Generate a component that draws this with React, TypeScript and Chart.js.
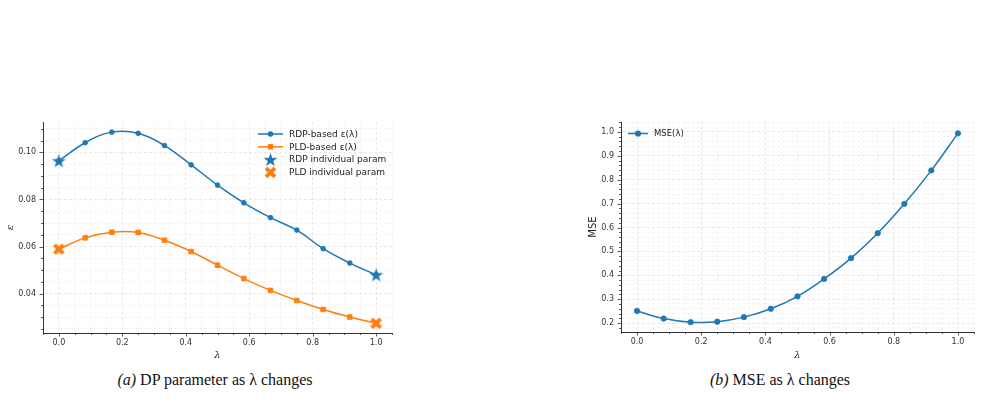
import React, { useEffect, useRef } from 'react';
import { Chart, registerables } from 'chart.js';
Chart.register(...registerables);

// ---------------- data ----------------
const lambdas = [0, 0.083, 0.167, 0.25, 0.333, 0.417, 0.5, 0.583, 0.667, 0.75, 0.833, 0.917, 1.0];
const rdpEps = [0.0964, 0.1041, 0.1086, 0.1081, 0.1029, 0.0947, 0.0861, 0.0786, 0.0723, 0.067, 0.0591, 0.053, 0.048];
const pldEps = [0.0589, 0.0637, 0.0661, 0.066, 0.0627, 0.0579, 0.0521, 0.0464, 0.0414, 0.0371, 0.0333, 0.0301, 0.0274];
const indivLambdas = [0, 1];
const rdpIndividual = [0.0964, 0.048];
const pldIndividual = [0.0589, 0.0274];
const mseValues = [0.251, 0.219, 0.204, 0.206, 0.225, 0.26, 0.312, 0.385, 0.472, 0.576, 0.699, 0.839, 0.994];

const seriesLabels = ['RDP-based ε(λ)', 'PLD-based ε(λ)', 'RDP individual param', 'PLD individual param'];
const mseLabel = 'MSE(λ)';
const captionA = 'DP parameter as λ changes';
const captionB = 'MSE as λ changes';

const BLUE = '#1f77b4';
const ORANGE = '#ff7f0e';
const FONT = "'DejaVu Sans', sans-serif";

const toPts = (xs: number[], ys: number[]) => xs.map((x, i) => ({ x, y: ys[i] }));
const isMajor = (v: number, step: number) => Math.abs(v / step - Math.round(v / step)) < 1e-6;

function starCanvas(color: string, outer: number) {
  const s = Math.ceil(outer * 2 + 2);
  const c = document.createElement('canvas');
  c.width = s; c.height = s;
  const g = c.getContext('2d')!;
  const inner = outer * 0.382;
  g.beginPath();
  for (let i = 0; i < 10; i++) {
    const r = i % 2 === 0 ? outer : inner;
    const a = -Math.PI / 2 + (i * Math.PI) / 5;
    const px = s / 2 + r * Math.cos(a);
    const py = s / 2 + 0.6 + r * Math.sin(a);
    if (i === 0) g.moveTo(px, py); else g.lineTo(px, py);
  }
  g.closePath();
  g.fillStyle = color;
  g.fill();
  return c;
}

function xCanvas(color: string, half: number, arm: number) {
  const s = Math.ceil(half * 2 + 4);
  const c = document.createElement('canvas');
  c.width = s; c.height = s;
  const g = c.getContext('2d')!;
  g.translate(s / 2, s / 2);
  g.rotate(Math.PI / 4);
  g.fillStyle = color;
  g.fillRect(-half, -arm / 2, half * 2, arm);
  g.fillRect(-arm / 2, -half, arm, half * 2);
  return c;
}

type LegendCfg = { x: number; y: number; gap: number; lineLen: number; textX: number; font: string };

function makeDecor(xMajor: number, yMajor: number, legend: LegendCfg) {
  return {
    id: 'decor',
    afterDraw(chart: any) {
      const ctx = chart.ctx;
      const { left, bottom } = chart.chartArea;
      ctx.save();
      ctx.strokeStyle = '#333';
      ctx.lineWidth = 0.8;
      const xs = chart.scales.x;
      xs.ticks.forEach((t: any) => {
        const p = Math.round(xs.getPixelForValue(t.value)) + 0.5;
        const len = isMajor(t.value, xMajor) ? 3.5 : 2;
        ctx.beginPath(); ctx.moveTo(p, bottom); ctx.lineTo(p, bottom + len); ctx.stroke();
      });
      const ys = chart.scales.y;
      ys.ticks.forEach((t: any) => {
        const p = Math.round(ys.getPixelForValue(t.value)) + 0.5;
        const len = isMajor(t.value, yMajor) ? 3.5 : 2;
        ctx.beginPath(); ctx.moveTo(left - len, p); ctx.lineTo(left, p); ctx.stroke();
      });
      // legend
      chart.data.datasets.forEach((ds: any, i: number) => {
        const y = legend.y + i * legend.gap;
        const x0 = legend.x;
        const cx = x0 + legend.lineLen / 2;
        if (ds.showLine !== false) {
          ctx.strokeStyle = ds.borderColor;
          ctx.lineWidth = ds.borderWidth;
          ctx.beginPath(); ctx.moveTo(x0, y); ctx.lineTo(x0 + legend.lineLen, y); ctx.stroke();
        }
        const ps = ds.pointStyle;
        const r = ds.pointRadius;
        ctx.fillStyle = ds.pointBackgroundColor;
        if (ps === 'circle') {
          ctx.beginPath(); ctx.arc(cx, y, r + 0.4, 0, Math.PI * 2); ctx.fill();
        } else if (ps === 'rect') {
          const h = r * Math.SQRT1_2 + 0.4;
          ctx.fillRect(cx - h, y - h, 2 * h, 2 * h);
        } else if (ps && ps.width) {
          ctx.drawImage(ps, cx - ps.width / 2, y - ps.height / 2);
        }
        ctx.fillStyle = '#222';
        ctx.font = legend.font;
        ctx.textBaseline = 'middle';
        ctx.textAlign = 'left';
        ctx.fillText(ds.label, legend.textX, y + 0.5);
      });
      ctx.restore();
    },
  };
}

function gridFor(step: number) {
  return {
    drawTicks: false,
    lineWidth: 0.8,
    color: (c: any) => (c.tick && isMajor(c.tick.value, step) ? '#e2e2e2' : '#f1f1f1'),
  };
}

function baseScales(opts: {
  yMin: number; yMax: number; yStep: number; yMinor: number; yDigits: number; yTitle: string; yItalic: boolean;
  yWidth: number; xHeight: number; yTitlePad: number;
}) {
  return {
    x: {
      type: 'linear',
      min: -0.05,
      max: 1.05,
      afterFit: (s: any) => { s.height = opts.xHeight; },
      ticks: {
        stepSize: 0.05,
        includeBounds: false,
        autoSkip: false,
        maxRotation: 0,
        padding: 5,
        color: '#333',
        font: { family: FONT, size: 8 },
        callback: (v: any) => (isMajor(Number(v), 0.2) ? Number(v).toFixed(1) : ''),
      },
      grid: gridFor(0.2),
      border: { display: true, color: '#333', width: 1, dash: [3, 2] },
      title: {
        display: true, text: 'λ', color: '#222',
        font: { family: "'DejaVu Serif', serif", size: 10, style: 'italic' },
        padding: { top: 0, bottom: 4 },
      },
    },
    y: {
      type: 'linear',
      min: opts.yMin,
      max: opts.yMax,
      afterFit: (s: any) => { s.width = opts.yWidth; },
      ticks: {
        stepSize: opts.yMinor,
        includeBounds: false,
        autoSkip: false,
        padding: 7,
        color: '#333',
        font: { family: FONT, size: 8 },
        callback: (v: any) => (isMajor(Number(v), opts.yStep) ? Number(v).toFixed(opts.yDigits) : ''),
      },
      grid: gridFor(opts.yStep),
      border: { display: true, color: '#333', width: 1, dash: [3, 2] },
      title: {
        display: true, text: opts.yTitle, color: '#222',
        font: opts.yItalic
          ? { family: "'DejaVu Serif', serif", size: 10, style: 'italic' }
          : { family: FONT, size: 10 },
        padding: { top: opts.yTitlePad, bottom: 0 },
      },
    },
  };
}

function LeftChart() {
  const ref = useRef<HTMLCanvasElement>(null);
  useEffect(() => {
    const star = starCanvas(BLUE, 7.4);
    const cross = xCanvas(ORANGE, 6.3, 4);
    const chart = new Chart(ref.current!, {
      type: 'line',
      data: {
        datasets: [
          {
            label: seriesLabels[0], data: toPts(lambdas, rdpEps), borderColor: BLUE, backgroundColor: BLUE,
            pointBackgroundColor: BLUE, pointBorderColor: BLUE, borderWidth: 1.5, pointRadius: 2.4, pointBorderWidth: 0.8,
            pointStyle: 'circle', tension: 0.4, order: 1,
          },
          {
            label: seriesLabels[1], data: toPts(lambdas, pldEps), borderColor: ORANGE, backgroundColor: ORANGE,
            pointBackgroundColor: ORANGE, pointBorderColor: ORANGE, borderWidth: 1.5, pointRadius: 3.3, pointBorderWidth: 0.8,
            pointStyle: 'rect', tension: 0.4, order: 1,
          },
          {
            label: seriesLabels[2], data: toPts(indivLambdas, rdpIndividual), showLine: false, borderColor: BLUE,
            pointBackgroundColor: BLUE, pointStyle: star, pointRadius: 7, order: 0,
          },
          {
            label: seriesLabels[3], data: toPts(indivLambdas, pldIndividual), showLine: false, borderColor: ORANGE,
            pointBackgroundColor: ORANGE, pointStyle: cross, pointRadius: 7, order: 0,
          },
        ],
      } as any,
      options: {
        animation: false,
        responsive: false,
        events: [],
        layout: { padding: { top: 12, right: 8, left: 0, bottom: 0 } },
        plugins: { legend: { display: false }, tooltip: { enabled: false } },
        scales: baseScales({
          yMin: 0.0233, yMax: 0.1129, yStep: 0.02, yMinor: 0.005, yDigits: 2, yTitle: 'ε', yItalic: true,
          yWidth: 43, xHeight: 32, yTitlePad: 4,
        }) as any,
      },
      plugins: [makeDecor(0.2, 0.02, { x: 258, y: 24, gap: 12.8, lineLen: 25, textX: 289, font: `9px ${FONT}` })],
    });
    return () => chart.destroy();
  }, []);
  return <canvas ref={ref} width={400} height={255} style={{ position: 'absolute', left: 0, top: 110 }} />;
}

function RightChart() {
  const ref = useRef<HTMLCanvasElement>(null);
  useEffect(() => {
    const chart = new Chart(ref.current!, {
      type: 'line',
      data: {
        datasets: [
          {
            label: mseLabel, data: toPts(lambdas, mseValues), borderColor: BLUE, backgroundColor: BLUE,
            pointBackgroundColor: BLUE, pointBorderColor: BLUE, borderWidth: 1.5, pointRadius: 2.7, pointBorderWidth: 0.8,
            pointStyle: 'circle', tension: 0.4,
          },
        ],
      } as any,
      options: {
        animation: false,
        responsive: false,
        events: [],
        layout: { padding: { top: 12, right: 8, left: 0, bottom: 0 } },
        plugins: { legend: { display: false }, tooltip: { enabled: false } },
        scales: baseScales({
          yMin: 0.1628, yMax: 1.0415, yStep: 0.1, yMinor: 0.02, yDigits: 1, yTitle: 'MSE', yItalic: false,
          yWidth: 61, xHeight: 33, yTitlePad: 27,
        }) as any,
      },
      plugins: [makeDecor(0.2, 0.1, { x: 68, y: 23.5, gap: 13, lineLen: 20, textX: 94, font: `8.5px ${FONT}` })],
    });
    return () => chart.destroy();
  }, []);
  return <canvas ref={ref} width={422} height={255} style={{ position: 'absolute', left: 560, top: 110 }} />;
}

const captionStyle: React.CSSProperties = {
  position: 'absolute',
  top: 370,
  width: 400,
  textAlign: 'center',
  fontFamily: "'Liberation Serif', 'Times New Roman', serif",
  fontSize: 16,
  lineHeight: '20px',
  color: '#111',
  whiteSpace: 'nowrap',
};

export default function App() {
  return (
    <div style={{ position: 'fixed', left: 0, top: 0, width: 982, height: 410, background: '#fff', overflow: 'hidden' }}>
      <LeftChart />
      <RightChart />
      <div style={{ ...captionStyle, left: 15 }}>
        <i>(a)</i> {captionA}
      </div>
      <div style={{ ...captionStyle, left: 580 }}>
        <i>(b)</i> {captionB}
      </div>
    </div>
  );
}
